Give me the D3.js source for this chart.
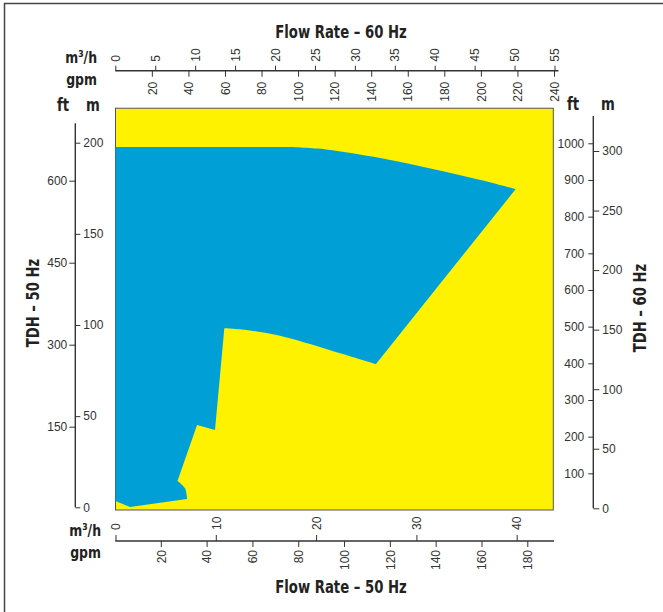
<!DOCTYPE html>
<html><head><meta charset="utf-8">
<script src="https://cdn.jsdelivr.net/npm/d3@7"></script>
<style>
body{margin:0;background:#fff}
svg{display:block}
.tick text{font-family:"Liberation Sans",Arial,Helvetica,sans-serif;font-size:12px;fill:#333}
.tick line{stroke:#333;stroke-width:1}
.lbl{font-family:"Liberation Sans Narrow","DejaVu Sans Condensed","Liberation Sans",sans-serif;font-weight:bold;fill:#222}
</style></head><body>
<script>
// ---- tick labels ----
const flow60_m3h = [0,5,10,15,20,25,30,35,40,45,50,55];
const flow60_gpm = [20,40,60,80,100,120,140,160,180,200,220,240];
const flow50_m3h = [0,10,20,30,40];
const flow50_gpm = [20,40,60,80,100,120,140,160,180];
const tdh50_ft = [150,300,450,600];
const tdh50_m = [0,50,100,150,200];
const tdh60_ft = [100,200,300,400,500,600,700,800,900,1000];
const tdh60_m = [0,50,100,150,200,250,300];

// ---- operating range (50 Hz units: flow m3/h, head m) ----
const rangeStart = [[0,197.6]];
const rangeTopArc = [[17.5,197.6],[21.0,196.3],[26.4,191.6],[31.4,185.9],[36.4,179.6],[39.9,174.6]];
const rangeLowerArc = [[25.97,78.6],[21.4,86.2],[16.4,94.1],[13.4,97.0],[10.85,98.2]];
const rangeStep = [[9.92,42.4],[8.13,45.1],[6.18,14.4]];
const rangeBulge = [[6.18,14.4],[6.93,10.4],[7.13,4.55]];
const rangeEnd = [[1.45,0.16],[0,3.5]];
const plotFlowMax = 43.65, plotHeadMax = 218.9, plotHeadMin = -1.48;

const W = 663, H = 612;
const svg = d3.select("body").append("svg").attr("width",W).attr("height",H);

// scales
const x50 = d3.scaleLinear().domain([0,40]).range([115.5,516.7]);
const x50gpm = d3.scaleLinear().domain([0,180]).range([115,527.3]);
const x60 = d3.scaleLinear().domain([0,55]).range([115.3,554.5]);
const x60gpm = d3.scaleLinear().domain([0,240]).range([115.3,554]);
const yLm = d3.scaleLinear().domain([0,200]).range([507.3,142.7]);
const yLft = d3.scaleLinear().domain([0,600]).range([508.7,180.7]);
const yRft = d3.scaleLinear().domain([0,1000]).range([510,143.3]);
const yRm = d3.scaleLinear().domain([0,300]).range([508.3,151]);
const fmt = d3.format("d");

// frame
svg.append("path").attr("d","M4.5,612 L4.5,3.5 L663,3.5").attr("fill","none").attr("stroke","#444").attr("stroke-width",1.5);

// plot background
svg.append("rect")
  .attr("x",x50(0)).attr("y",yLm(plotHeadMax))
  .attr("width",x50(plotFlowMax)-x50(0)).attr("height",yLm(plotHeadMin)-yLm(plotHeadMax))
  .attr("fill","#fff200").attr("stroke","#555").attr("stroke-width",1);

// blue range
const px = d => [x50(d[0]), yLm(d[1])];
const curve = d3.line().x(d=>x50(d[0])).y(d=>yLm(d[1])).curve(d3.curveCatmullRom.alpha(0.5));
const pts = a => a.map(d=>"L"+px(d).join(",")).join("");
let dstr = "M"+px(rangeStart[0]).join(",")
  + curve(rangeTopArc).replace(/^M/,"L")
  + curve(rangeLowerArc).replace(/^M/,"L")
  + pts(rangeStep)
  + curve(rangeBulge).replace(/^M/,"L")
  + pts(rangeEnd) + "Z";
svg.append("path").attr("d",dstr).attr("fill","#00a0d6");

// ---- top axis (60 Hz flow) ----
const topY = 70.7;
svg.append("line").attr("x1",115.3).attr("x2",558.5).attr("y1",topY).attr("y2",topY).attr("stroke","#333").attr("stroke-width",1.4);
const gTopU = svg.append("g").attr("transform",`translate(0,${topY})`)
  .call(d3.axisTop(x60).tickValues(flow60_m3h).tickFormat(fmt).tickSize(5).tickSizeOuter(0));
gTopU.select(".domain").remove();
gTopU.selectAll(".tick text").attr("transform","rotate(-90)").attr("x",9).attr("y",0).attr("dy","0.35em").style("text-anchor","start");
const gTopD = svg.append("g").attr("transform",`translate(0,${topY})`)
  .call(d3.axisBottom(x60gpm).tickValues(flow60_gpm).tickFormat(fmt).tickSize(6).tickSizeOuter(0));
gTopD.select(".domain").remove();
gTopD.selectAll(".tick text").attr("transform","rotate(-90)").attr("x",-11).attr("y",0).attr("dy","0.35em").style("text-anchor","end");

// ---- bottom axis (50 Hz flow) ----
const botY = 541;
svg.append("line").attr("x1",115.3).attr("x2",554).attr("y1",botY).attr("y2",botY).attr("stroke","#333").attr("stroke-width",1.4);
const gBotU = svg.append("g").attr("transform",`translate(0,${botY})`)
  .call(d3.axisTop(x50).tickValues(flow50_m3h).tickFormat(fmt).tickSize(6).tickSizeOuter(0));
gBotU.select(".domain").remove();
gBotU.selectAll(".tick text").attr("transform","rotate(-90)").attr("x",11).attr("y",0).attr("dy","0.35em").style("text-anchor","start");
const gBotD = svg.append("g").attr("transform",`translate(0,${botY})`)
  .call(d3.axisBottom(x50gpm).tickValues(flow50_gpm).tickFormat(fmt).tickSize(6).tickSizeOuter(0));
gBotD.select(".domain").remove();
gBotD.selectAll(".tick text").attr("transform","rotate(-90)").attr("x",-9).attr("y",0).attr("dy","0.35em").style("text-anchor","end");

// ---- left axis (50 Hz TDH) ----
const leftX = 75.3;
svg.append("line").attr("x1",leftX).attr("x2",leftX).attr("y1",123.3).attr("y2",yLm(0)).attr("stroke","#333").attr("stroke-width",1.4);
const gLft = svg.append("g").attr("transform",`translate(${leftX},0)`)
  .call(d3.axisLeft(yLft).tickValues(tdh50_ft).tickFormat(fmt).tickSize(6).tickPadding(2).tickSizeOuter(0));
gLft.select(".domain").remove();
const gLm = svg.append("g").attr("transform",`translate(${leftX},0)`)
  .call(d3.axisRight(yLm).tickValues(tdh50_m).tickFormat(fmt).tickSize(5).tickPadding(3).tickSizeOuter(0));
gLm.select(".domain").remove();

// ---- right axis (60 Hz TDH) ----
const rightX = 593.3;
svg.append("line").attr("x1",rightX).attr("x2",rightX).attr("y1",116).attr("y2",yRm(0)).attr("stroke","#333").attr("stroke-width",1.4);
const gRft = svg.append("g").attr("transform",`translate(${rightX},0)`)
  .call(d3.axisLeft(yRft).tickValues(tdh60_ft).tickFormat(fmt).tickSize(5).tickPadding(4).tickSizeOuter(0));
gRft.select(".domain").remove();
const gRm = svg.append("g").attr("transform",`translate(${rightX},0)`)
  .call(d3.axisRight(yRm).tickValues(tdh60_m).tickFormat(fmt).tickSize(6).tickPadding(3).tickSizeOuter(0));
gRm.select(".domain").remove();

// ---- labels ----
function lbl(x,y,t,size,anchor,rot){
  return svg.append("text").attr("class","lbl").attr("font-size",size).attr("text-anchor",anchor||"middle")
    .attr("transform",`translate(${x},${y}) rotate(${rot||0}) scale(0.84,1)`).text(t);
}
lbl(341,38,"Flow Rate – 60 Hz",17.5);
lbl(97,63,"m³/h",16.5,"end");
lbl(97,85,"gpm",16.5,"end");
lbl(63,111,"ft",17.5);
lbl(93,111,"m",17.5);
lbl(573,110,"ft",17.5);
lbl(608,110,"m",17.5);
lbl(39,303,"TDH – 50 Hz",17.5,"middle",-90);
lbl(646,308,"TDH – 60 Hz",17.5,"middle",-90);
lbl(101,536,"m³/h",16.5,"end");
lbl(101,558,"gpm",16.5,"end");
lbl(341,593,"Flow Rate – 50 Hz",17.5);
</script>
</body></html>
